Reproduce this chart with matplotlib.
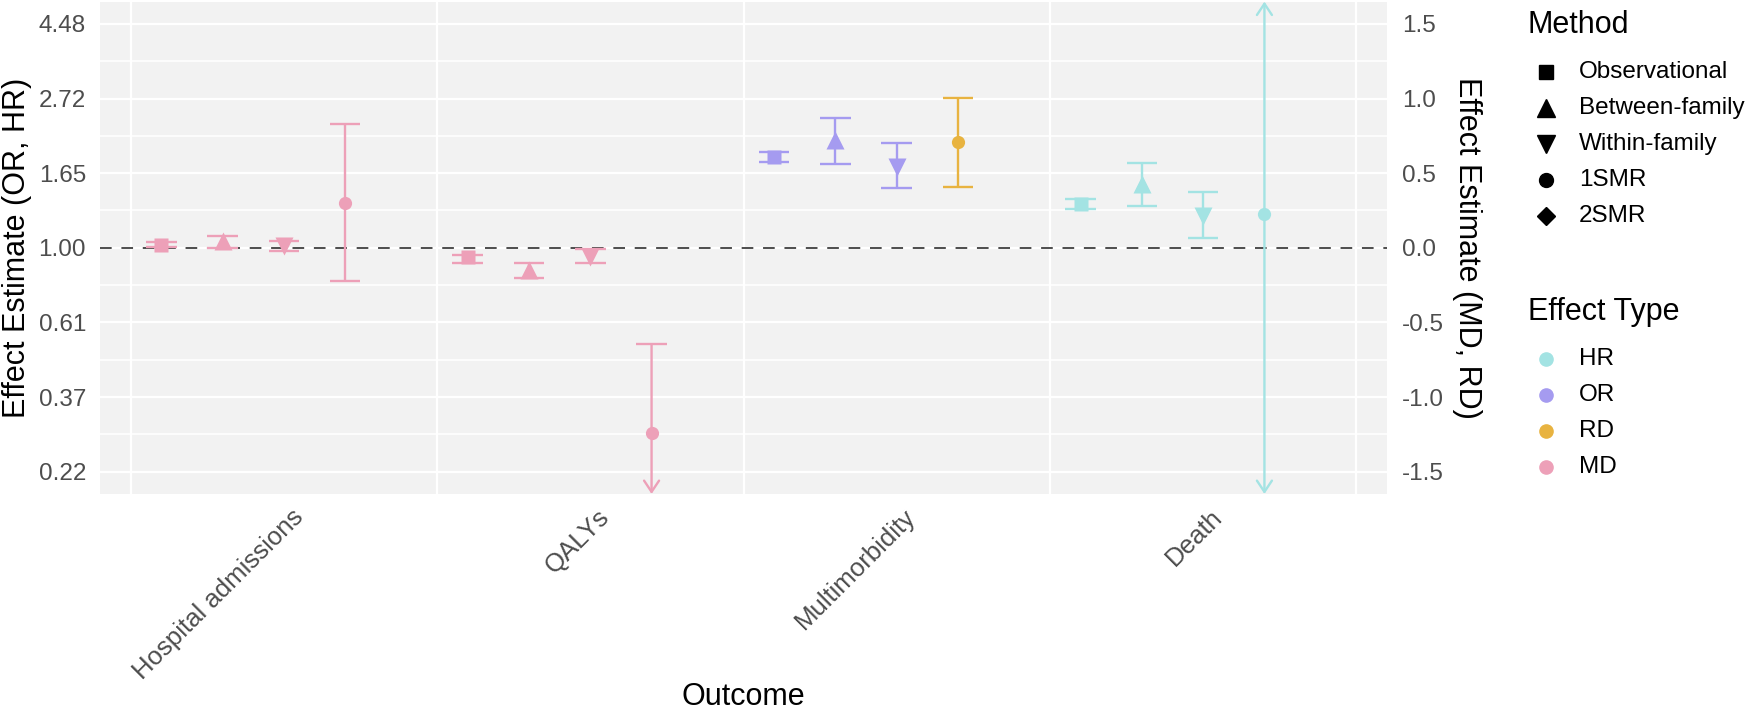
import numpy as np
import matplotlib
matplotlib.use('Agg')
from matplotlib import pyplot as plt
from matplotlib.lines import Line2D
from matplotlib import transforms

plt.rcParams['font.family'] = ['Liberation Sans', 'DejaVu Sans']

# data (values on the plotted scale: log(OR/HR) or raw MD/RD)
outcomes = ['Hospital admissions', 'QALYs', 'Multimorbidity', 'Death']
methods = ['Observational', 'Between-family', 'Within-family', '1SMR', '2SMR']
effect_types = ['HR', 'OR', 'RD', 'MD']

row_outcome = ['Hospital admissions'] * 4 + ['QALYs'] * 4 + ['Multimorbidity'] * 4 + ['Death'] * 4
row_method = ['Observational', 'Between-family', 'Within-family', '1SMR'] * 4
row_effect = ['MD'] * 8 + ['OR', 'OR', 'OR', 'RD'] + ['HR'] * 4
est = [0.022, 0.045, 0.010, 0.30,
       -0.065, -0.150, -0.060, -1.244,
       0.610, 0.720, 0.540, 0.707,
       0.295, 0.430, 0.215, 0.229]
lower = [0.007, 0.000, -0.022, -0.22,
         -0.100, -0.200, -0.102, -1.84,
         0.575, 0.560, 0.400, 0.409,
         0.260, 0.278, 0.067, -2.50]
upper = [0.036, 0.076, 0.044, 0.83,
         -0.048, -0.100, -0.009, -0.647,
         0.645, 0.867, 0.700, 1.004,
         0.327, 0.571, 0.373, 2.90]

colors = {'HR': '#A3E3E3', 'OR': '#A59BF0', 'RD': '#E8B340', 'MD': '#EDA0B8'}
shapes = {'Observational': 's', 'Between-family': '^', 'Within-family': 'v',
          '1SMR': 'o', '2SMR': 'D'}
msizes = {'s': 10.5, '^': 13, 'v': 13, 'o': 9.5, 'D': 8}
dodge = {'Observational': -0.4, 'Between-family': -0.2, 'Within-family': 0.0,
         '1SMR': 0.2, '2SMR': 0.4}

W, H = 1750, 712
fig = plt.figure(figsize=(W / 100, H / 100), dpi=100)
ax = fig.add_axes([100 / W, 1 - 494 / H, (1387 - 100) / W, (494 - 1.6) / H])
ymin, ymax = -1.65, 1.65
ax.set_xlim(0.4, 4.6)
ax.set_ylim(ymin, ymax)
ax.set_facecolor('#F2F2F2')
for s in ax.spines.values():
    s.set_visible(False)

major = [-1.5, -1.0, -0.5, 0.0, 0.5, 1.0, 1.5]
minor = [-1.25, -0.75, -0.25, 0.25, 0.75, 1.25]
ax.set_yticks(major)
ax.set_yticks(minor, minor=True)
ax.set_yticklabels([f'{np.exp(v):.2f}' for v in major])
ax.tick_params(axis='y', which='both', length=0, pad=10, labelsize=17.5, labelcolor='#4D4D4D')
ax.set_xticks([])
ax.grid(True, axis='y', which='major', color='white', lw=1.6)
ax.grid(True, axis='y', which='minor', color='white', lw=1.2)
ax.set_axisbelow(True)
for xs in np.arange(0.5, 5, 1.0):
    ax.axvline(xs, color='white', lw=1.6, zorder=0.5)
ax.axhline(0, color='#4D4D4D', lw=1.4, ls=(0, (6, 5)), zorder=1)

ax2 = ax.twinx()
ax2.set_ylim(ymin, ymax)
ax2.set_yticks(major)
ax2.set_yticklabels([f'{v:.1f}' for v in major])
ax2.tick_params(axis='y', length=0, pad=11, labelsize=17.5, labelcolor='#4D4D4D')
for s in ax2.spines.values():
    s.set_visible(False)

cap = 0.05
lw = 1.7
for i in range(len(est)):
    x = outcomes.index(row_outcome[i]) + 1 + dodge[row_method[i]]
    c = colors[row_effect[i]]
    lo, hi = lower[i], upper[i]
    lo_c, hi_c = max(lo, ymin), min(hi, ymax)
    clip_lo, clip_hi = lo < ymin, hi > ymax
    if clip_lo or clip_hi:
        if clip_lo and clip_hi:
            style, start, end = '<->', lo_c, hi_c
        elif clip_lo:
            style, start, end = '->', hi_c, lo_c
        else:
            style, start, end = '->', lo_c, hi_c
        ax.annotate('', xy=(x, end), xytext=(x, start),
                    arrowprops=dict(arrowstyle=style + ', head_length=0.45, head_width=0.3',
                                    color=c, lw=lw, mutation_scale=18,
                                    shrinkA=0, shrinkB=0), zorder=2)
    else:
        ax.vlines(x, lo_c, hi_c, color=c, lw=lw, zorder=2)
    if not clip_lo:
        ax.hlines(lo, x - cap, x + cap, color=c, lw=lw, zorder=2)
    if not clip_hi:
        ax.hlines(hi, x - cap, x + cap, color=c, lw=lw, zorder=2)
    m = shapes[row_method[i]]
    ax.plot(x, est[i], marker=m, ms=msizes[m], color=c, mec='none', zorder=3)

# x tick labels
off = transforms.ScaledTranslation(7 / 100, -11 / 100, fig.dpi_scale_trans)
for j, name in enumerate(outcomes):
    ax.text(j + 1, 0, name, transform=ax.get_xaxis_transform() + off,
            rotation=45, ha='right', va='top', rotation_mode='anchor',
            fontsize=18.5, color='#4D4D4D')

fig.text(17 / W, 1 - 248 / H, 'Effect Estimate (OR, HR)', rotation=90,
         ha='center', va='center', fontsize=22)
fig.text(1467 / W, 1 - 248 / H, 'Effect Estimate (MD, RD)', rotation=270,
         ha='center', va='center', fontsize=22)
fig.text(743 / W, 1 - 697 / H, 'Outcome', ha='center', va='center', fontsize=22)

# legends
fig.text(1528 / W, 1 - 25 / H, 'Method', ha='left', va='center', fontsize=22)
leg_sizes = {'s': 10, '^': 12.5, 'v': 12.5, 'o': 10, 'D': 9}
for k, name in enumerate(methods):
    y = 1 - (72 + k * 36) / H
    m = shapes[name]
    fig.add_artist(Line2D([1546 / W], [y], transform=fig.transFigure, marker=m,
                          ms=leg_sizes[m], color='black', ls='none'))
    fig.text(1579 / W, y, name, ha='left', va='center', fontsize=17.5)

fig.text(1528 / W, 1 - 312 / H, 'Effect Type', ha='left', va='center', fontsize=22)
for k, name in enumerate(effect_types):
    y = 1 - (359 + k * 36) / H
    fig.add_artist(Line2D([1546 / W], [y], transform=fig.transFigure, marker='o',
                          ms=9.5, color=colors[name], ls='none'))
    fig.text(1579 / W, y, name, ha='left', va='center', fontsize=17.5)

fig.savefig('out.png', dpi=100, facecolor='white')
